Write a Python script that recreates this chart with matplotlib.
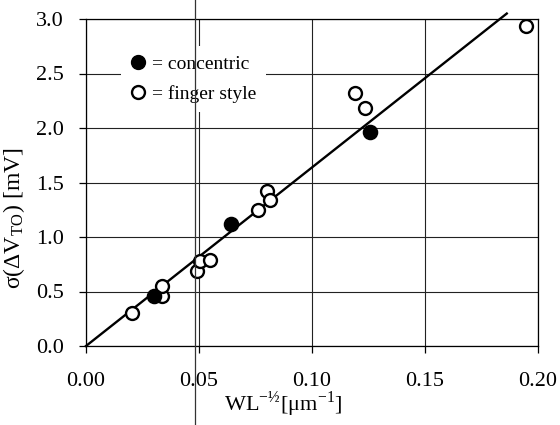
import matplotlib
matplotlib.use("Agg")
import matplotlib.pyplot as plt
from matplotlib.lines import Line2D

plt.rcParams['font.family'] = ['Liberation Serif', 'DejaVu Serif']
plt.rcParams['mathtext.fontset'] = 'stix'

# Data
concentric_x = [0.030, 0.064, 0.1256]
concentric_y = [0.46, 1.12, 1.96]
finger_x = [0.0203, 0.0337, 0.0337, 0.0492, 0.0504, 0.0548, 0.076, 0.0801, 0.0816, 0.1192, 0.1235, 0.1950]
finger_y = [0.30, 0.46, 0.55, 0.69, 0.78, 0.79, 1.25, 1.42, 1.34, 2.32, 2.18, 2.94]
fit_x = [0.0, 0.1863]
fit_y = [0.0, 3.05]
xticks = [0.00, 0.05, 0.10, 0.15, 0.20]
yticks = [0.0, 0.5, 1.0, 1.5, 2.0, 2.5, 3.0]

fig = plt.figure(figsize=(5.6, 4.25), dpi=100)
ax = fig.add_axes([86/560, 1-346/425, (537.7-86)/560, (346-19)/425])

ax.plot(fit_x, fit_y, color='black', lw=1.7, clip_on=False, zorder=3)
ax.plot(finger_x, finger_y, 'o', ms=9.3, mfc='white', mec='black', mew=1.7, ls='none', zorder=4)
ax.plot(concentric_x, concentric_y, 'o', ms=10, mfc='black', mec='black', mew=1.2, ls='none', zorder=5)

ax.set_xlim(0, 0.2)
ax.set_ylim(0, 3.0)
ax.set_xticks(xticks)
ax.set_yticks(yticks)
ax.set_xticklabels([f"{v:.2f}" for v in xticks])
ax.set_yticklabels([f"{v:.1f}" for v in yticks])
ax.grid(True, color='#222222', lw=0.8)
ax.set_axisbelow(True)
for s in ax.spines.values():
    s.set_linewidth(0.9)
ax.tick_params(direction='out', length=5, width=0.9, labelsize=16)
ax.tick_params(axis='x', pad=14)
ax.tick_params(axis='y', pad=11)

ax.set_xlabel(r'WL$^{\mathregular{-½}}$[μm$^{\mathregular{-1}}$]', fontsize=16, labelpad=-2)
ax.xaxis.set_label_coords(0.436, -0.135)
ax.set_ylabel(r'σ(ΔV$_{\mathregular{TO}}$) [mV]', fontsize=17)
ax.yaxis.set_label_coords(-0.131, 0.39)

handles = [
    Line2D([], [], marker='o', ls='none', ms=10, mfc='black', mec='black'),
    Line2D([], [], marker='o', ls='none', ms=9.3, mfc='white', mec='black', mew=1.7),
]
leg = ax.legend(handles, ['= concentric', '= finger style'], loc='upper left',
                bbox_to_anchor=(0.055, 0.948), fontsize=14, frameon=True,
                handlelength=0.8, handletextpad=0.3, labelspacing=0.6,
                borderpad=0.5, fancybox=False, framealpha=1.0)
leg.get_frame().set_edgecolor('none')
leg.get_frame().set_facecolor('white')

# scan artifact vertical line across whole figure
fig.add_artist(Line2D([195/560, 195/560], [0, 1], transform=fig.transFigure, color='#333333', lw=0.9, zorder=10))

fig.savefig('out.png', dpi=100)
